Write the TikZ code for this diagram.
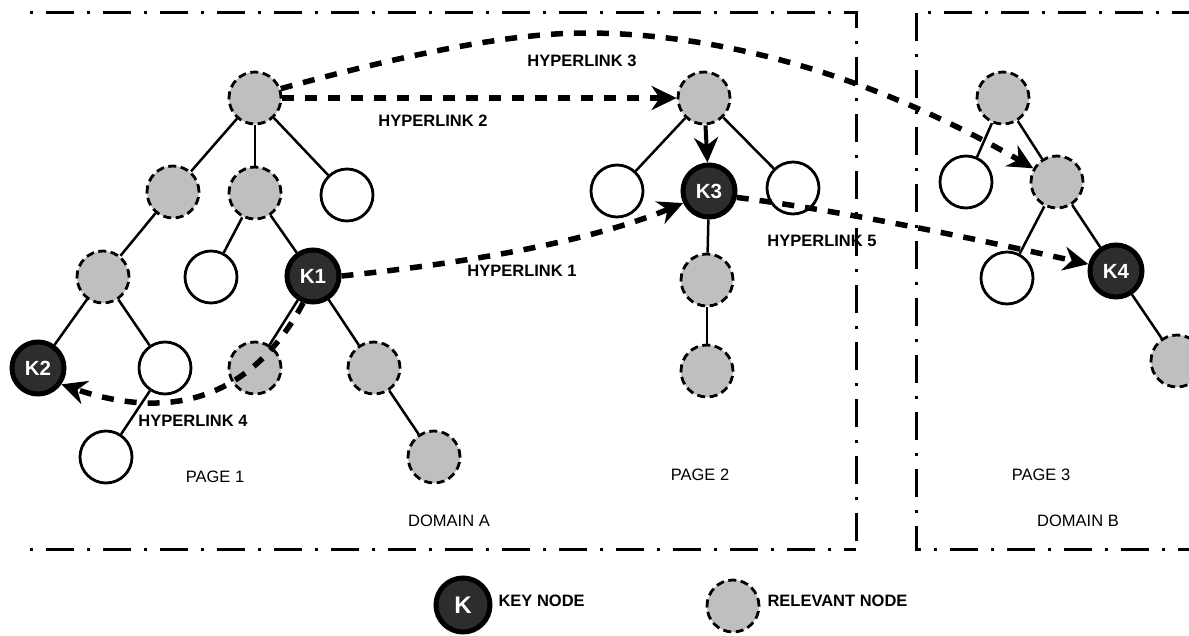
\documentclass[tikz,border=0pt]{standalone}
\usepackage{fontspec}
\setmainfont{Liberation Sans}
\usetikzlibrary{arrows.meta}
\definecolor{relgray}{RGB}{191,191,191}
\definecolor{keyfill}{RGB}{45,45,45}
\tikzset{
  tnode/.style={circle, minimum size=52pt, inner sep=0pt, line width=2.8pt},
  relnode/.style={tnode, draw=black, fill=relgray, dash pattern=on 8pt off 4.5pt},
  plainnode/.style={tnode, draw=black, fill=white},
  keynode/.style={circle, minimum size=52pt, inner sep=0pt, line width=5pt,
    draw=black, fill=keyfill, text=white, font=\fontsize{20.5}{20}\selectfont\bfseries},
  treeedge/.style={line width=2.5pt},
  hyper/.style={line width=5.5pt, dash pattern=on 12pt off 11pt,
    -{Stealth[length=25pt,width=24pt,inset=8pt]}},
  childarrow/.style={line width=4pt, -{Stealth[length=25pt,width=24pt,inset=8pt]}},
  linklabel/.style={font=\fontsize{16.5}{18}\selectfont\bfseries},
  arealabel/.style={font=\fontsize{16.5}{18}\selectfont},
  boxline/.style={line width=3pt, dash pattern=on 28pt off 13pt on 3pt off 13pt},
}
\begin{document}
\begin{tikzpicture}[x=1pt, y=-1pt]
\useasboundingbox (0,0) rectangle (1189,635);
\clip (0,0) rectangle (1189,635);

% domain frames
\draw[boxline, dash phase=41pt] (30,12) -- (856,12) -- (856,549);
\draw[boxline, dash phase=41pt] (30,549) -- (856,549);
\draw[boxline] (1200,12) -- (916,12) -- (916,549) -- (1200,549);

% page 1 tree
\node[relnode]   (r1) at (255,98)  {};
\node[relnode]   (a1) at (173,192) {};
\node[relnode]   (b1) at (255,193) {};
\node[plainnode] (c1) at (347,195) {};
\node[relnode]   (d1) at (103,277) {};
\node[plainnode] (e1) at (211,277) {};
\node[keynode]   (k1) at (313,276) {K1};
\node[keynode]   (k2) at (38,368)  {K2};
\node[plainnode] (f1) at (165,368) {};
\node[relnode]   (g1) at (255,368) {};
\node[relnode]   (h1) at (374,368) {};
\node[plainnode] (i1) at (106,457) {};
\node[relnode]   (j1) at (434,457) {};

\draw[treeedge] (r1) -- (a1);
\draw[treeedge] (r1) -- (b1);
\draw[treeedge] (r1) -- (c1);
\draw[treeedge] (a1) -- (d1);
\draw[treeedge] (b1) -- (e1);
\draw[treeedge] (b1) -- (k1);
\draw[treeedge] (d1) -- (k2);
\draw[treeedge] (d1) -- (f1);
\draw[treeedge] (k1) -- (g1);
\draw[treeedge] (k1) -- (h1);
\draw[treeedge] (f1) -- (i1);
\draw[treeedge] (h1) -- (j1);

% page 2 tree
\node[relnode]   (r2) at (704,98)  {};
\node[plainnode] (l2) at (617,191) {};
\node[keynode]   (k3) at (709,191) {K3};
\node[plainnode] (w2) at (793,188) {};
\node[relnode]   (m2) at (707,280) {};
\node[relnode]   (n2) at (707,371) {};

\draw[treeedge] (r2) -- (l2);
\draw[treeedge] (r2) -- (w2);
\draw[childarrow] (r2) -- (k3);
\draw[treeedge] (k3) -- (m2);
\draw[treeedge] (m2) -- (n2);

% page 3 tree
\node[relnode]   (r3) at (1003,98)  {};
\node[plainnode] (l3) at (966,182)  {};
\node[relnode]   (m3) at (1057,182) {};
\node[plainnode] (w3) at (1007,278) {};
\node[keynode]   (k4) at (1116,271) {K4};
\node[relnode]   (n3) at (1177,361) {};

\draw[treeedge] (r3) -- (l3);
\draw[treeedge] (r3) -- (m3);
\draw[treeedge] (m3) -- (w3);
\draw[treeedge] (m3) -- (k4);
\draw[treeedge] (k4) -- (n3);

% hyperlinks
\coordinate (top3) at (585,33);
\draw[hyper] (r1.east) -- (r2.west);
\draw[hyper] (r1.20) .. controls (418,51) and (516,33) .. (top3)
                     .. controls (725,33) and (877,78) .. (m3.150);
\draw[hyper] (k1.east) .. controls (486,261) and (599,238) .. (k3.205);
\draw[hyper] (k1.250) .. controls (254,395) and (175,423) .. (k2.-35);
\draw[hyper] (k3.-13) .. controls (850,212) and (980,240) .. (k4.166);

% link labels
\node[linklabel] (t1) at (522,271) {HYPERLINK 1};
\node[linklabel] (t2) at (433,121) {HYPERLINK 2};
\node[linklabel] (t3) at (582,61)  {HYPERLINK 3};
\node[linklabel] (t4) at (193,421) {HYPERLINK 4};
\node[linklabel] (t5) at (822,241) {HYPERLINK 5};

% page and domain labels
\node[arealabel] (p1) at (215,477)  {PAGE 1};
\node[arealabel] (p2) at (700,475)  {PAGE 2};
\node[arealabel] (p3) at (1041,475) {PAGE 3};
\node[arealabel] (da) at (449,521)  {DOMAIN A};
\node[arealabel] (db) at (1078,521) {DOMAIN B};

% legend
\node[keynode, minimum size=54pt, font=\fontsize{24}{24}\selectfont\bfseries] (lk) at (463,605) {K};
\node[linklabel, anchor=west] (lkt) at (495,601) {KEY NODE};
\node[relnode] (lr) at (733,606) {};
\node[linklabel, anchor=west] (lrt) at (764,601) {RELEVANT NODE};
\end{tikzpicture}
\end{document}
